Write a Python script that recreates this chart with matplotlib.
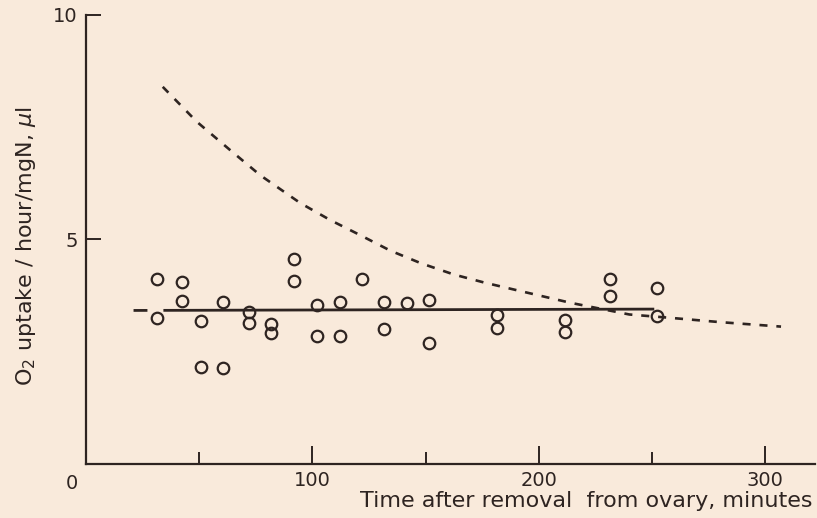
import matplotlib
matplotlib.use("Agg")
import matplotlib.pyplot as plt

# ---- data ----
time_min = [31.5, 31.5, 42.5, 42.5, 51, 51, 60.5, 60.5, 71.8, 71.8, 81.5, 81.5,
            92, 92, 102, 102, 112, 112, 122, 131.5, 131.5, 142, 151.5, 151.5,
            181.5, 181.5, 211.5, 211.5, 231.5, 231.5, 252, 252]
o2_uptake = [4.11, 3.26, 4.05, 3.62, 3.18, 2.17, 3.60, 2.13, 3.39, 3.15, 3.11, 2.92,
             4.57, 4.08, 3.55, 2.85, 3.60, 2.84, 4.13, 3.61, 3.01, 3.58, 3.65, 2.69,
             3.32, 3.04, 3.21, 2.95, 4.12, 3.74, 3.92, 3.30]

mean_x = [21, 251]
mean_y = [3.42, 3.45]

curve_x = [33.9, 49.0, 63.7, 77.0, 94.7, 108, 121, 134.5, 148, 162.5, 176, 192,
           214, 240, 257, 280, 307]
curve_y = [8.40, 7.62, 6.99, 6.43, 5.81, 5.43, 5.10, 4.75, 4.47, 4.22, 4.04, 3.85,
           3.59, 3.33, 3.26, 3.16, 3.06]

x_major = [100, 200, 300]
x_minor = [50, 150, 250]
y_major = [5, 10]
x_label = "Time after removal  from ovary, minutes"
y_label = r"O$_2$ uptake / hour/mgN, $\mu$l"

bg = "#f9eadb"
ink = "#2e2421"

plt.rcParams['font.family'] = ['DejaVu Sans']
plt.rcParams['lines.scale_dashes'] = False
fig = plt.figure(figsize=(8.17, 5.18), dpi=100, facecolor=bg)
ax = fig.add_axes([86/817, 54/518, 729/817, 449/518], facecolor=bg)

ax.plot(curve_x, curve_y, color=ink, lw=1.9, linestyle=(0, (5.8, 6.4)),
        dash_capstyle='butt')
ax.plot(mean_x, mean_y, color=ink, lw=2.0, linestyle=(0, (10, 11.5, 400, 10)),
        dash_capstyle='butt')
ax.plot(time_min, o2_uptake, linestyle='none', marker='o', markersize=8.3,
        markerfacecolor='none', markeredgecolor=ink, markeredgewidth=1.6)

ax.set_xlim(0, 322)
ax.set_ylim(0, 10)
for s in ['top', 'right']:
    ax.spines[s].set_visible(False)
for s in ['left', 'bottom']:
    ax.spines[s].set_color(ink)
    ax.spines[s].set_linewidth(1.6)
ax.spines['left'].set_bounds(0, 10)

ax.set_xticks(x_major)
ax.set_xticks(x_minor, minor=True)
ax.set_yticks(y_major)
ax.tick_params(axis='x', which='major', direction='in', length=13, width=1.4,
               color=ink, labelcolor=ink, labelsize=14, pad=5)
ax.tick_params(axis='x', which='minor', direction='in', length=8.5, width=1.4,
               color=ink)
ax.tick_params(axis='y', which='major', direction='in', length=11, width=1.4,
               color=ink, labelcolor=ink, labelsize=14, pad=6)

ax.annotate("0", xy=(0, 0), xytext=(-10, -14), textcoords='offset points',
            ha='center', va='center', fontsize=14, color=ink, annotation_clip=False)

ax.text(0.996, -0.082, x_label, transform=ax.transAxes, ha='right', va='center',
        fontsize=16, color=ink)
ax.set_ylabel(y_label, fontsize=16, color=ink)
ax.yaxis.set_label_coords(-0.066, 0.485)

fig.savefig("out.png", dpi=100, facecolor=bg)
